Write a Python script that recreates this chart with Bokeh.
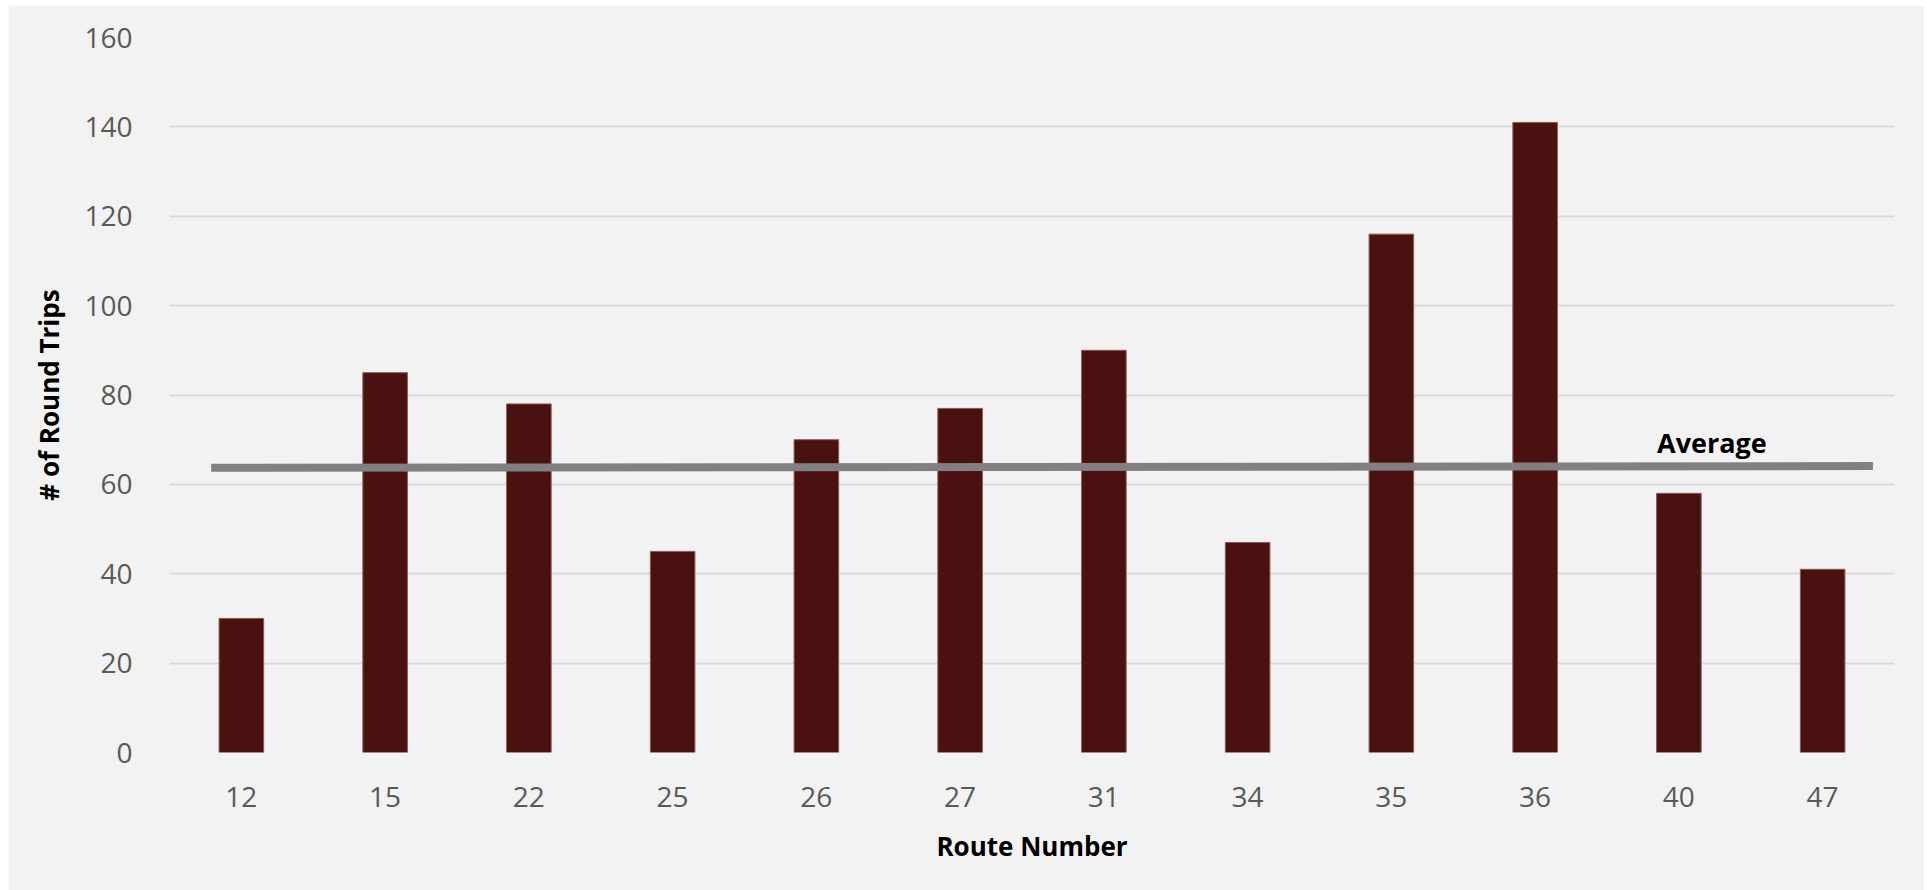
from bokeh.plotting import figure
from bokeh.models import ColumnDataSource, FixedTicker, Range1d
from bokeh.core.properties import value
from bokeh.embed import file_html
from bokeh.resources import INLINE

routes = ["12", "15", "22", "25", "26", "27", "31", "34", "35", "36", "40", "47"]
round_trips = [30, 85, 78, 45, 70, 77, 90, 47, 116, 141, 58, 41]
avg_x = [0.29, 11.85]
avg_y = [63.7, 64.1]
y_ticks = [0, 20, 40, 60, 80, 100, 120, 140, 160]

FONT = "Open Sans"

p = figure(width=1916, height=885, output_backend="svg", toolbar_location=None,
           x_range=Range1d(0, len(routes)), y_range=Range1d(0, 160),
           min_border_left=161, min_border_right=30, min_border_top=32, min_border_bottom=138)
p.styles = {"margin-left": "8px", "margin-top": "5px"}

p.background_fill_color = "#f2f2f2"
p.border_fill_color = "#f2f2f2"
p.outline_line_color = None

xs = [i + 0.5 for i in range(len(routes))]
src = ColumnDataSource(dict(x=xs, top=round_trips))
p.vbar(x="x", top="top", width=0.31, bottom=0, source=src,
       fill_color="#4a1111", line_color="#8c5a5a", line_width=1)

p.line(x=avg_x, y=avg_y, line_color="#808080", line_width=8)
p.text(x=[10.73], y=[69.3], text=["Average"], text_align="center", text_baseline="alphabetic",
       text_font=value(FONT), text_font_style="bold", text_font_size="27px", text_color="#000000")

p.xgrid.grid_line_color = None
p.ygrid.grid_line_color = "#d9d9d9"
p.ygrid.grid_line_width = 2
p.ygrid.ticker = FixedTicker(ticks=y_ticks)

p.yaxis.ticker = FixedTicker(ticks=y_ticks)
p.xaxis.ticker = FixedTicker(ticks=xs)
p.xaxis.major_label_overrides = {x: r for x, r in zip(xs, routes)}

for ax in (p.xaxis[0], p.yaxis[0]):
    ax.axis_line_color = None
    ax.major_tick_line_color = None
    ax.minor_tick_line_color = None
    ax.major_label_text_font = FONT
    ax.major_label_text_font_size = "28px"
    ax.major_label_text_color = "#595959"
    ax.axis_label_text_font = FONT
    ax.axis_label_text_font_size = "26px"
    ax.axis_label_text_font_style = "bold"
    ax.axis_label_text_color = "#000000"

p.yaxis.axis_label = "# of Round Trips"
p.xaxis.axis_label = "Route Number"
p.yaxis.major_label_standoff = 31
p.yaxis.axis_label_standoff = 14
p.xaxis.major_label_standoff = 28
p.xaxis.axis_label_standoff = 18

open("out.html", "w").write(file_html(p, INLINE))
